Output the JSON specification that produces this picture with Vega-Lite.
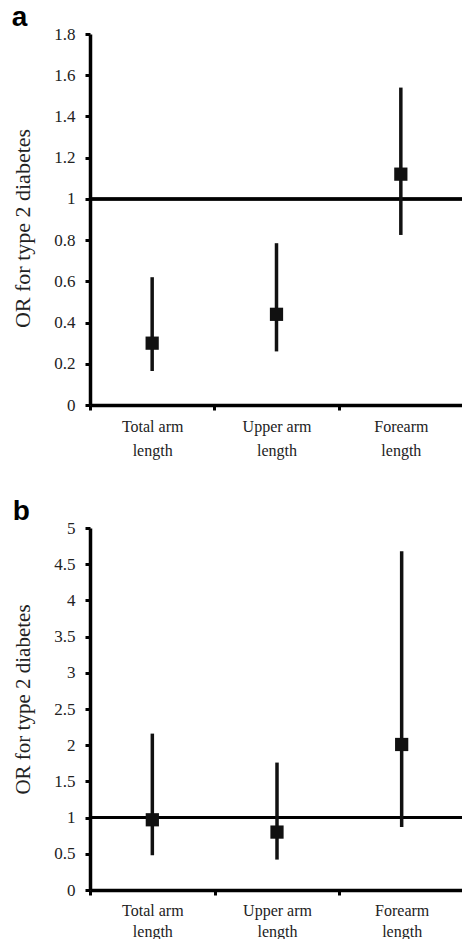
{
  "$schema": "https://vega.github.io/schema/vega-lite/v6.json",
  "padding": {"left": 11, "top": 4, "right": 0, "bottom": 0},
  "background": "white",
  "datasets": {
    "or": [
      {"panel": "a", "measure": "Total arm length", "or": 0.30, "lo": 0.165, "hi": 0.62},
      {"panel": "a", "measure": "Upper arm length", "or": 0.44, "lo": 0.26, "hi": 0.785},
      {"panel": "a", "measure": "Forearm length", "or": 1.12, "lo": 0.825, "hi": 1.54},
      {"panel": "b", "measure": "Total arm length", "or": 0.97, "lo": 0.48, "hi": 2.16},
      {"panel": "b", "measure": "Upper arm length", "or": 0.80, "lo": 0.42, "hi": 1.76},
      {"panel": "b", "measure": "Forearm length", "or": 2.01, "lo": 0.87, "hi": 4.68}
    ]
  },
  "config": {
    "view": {"stroke": null},
    "font": "Liberation Serif",
    "title": {"font": "Liberation Sans", "fontWeight": "bold", "fontSize": 28, "anchor": "start", "frame": "bounds", "color": "black", "offset": -7},
    "axis": {
      "domainColor": "black", "domainWidth": 3.5, "tickColor": "black", "tickWidth": 3, "tickSize": 5,
      "labelFont": "Liberation Serif", "labelFontSize": 17, "labelColor": "#222",
      "titleFont": "Liberation Serif", "titleFontSize": 21, "titleFontWeight": "normal", "titleColor": "#222",
      "grid": false
    }
  },
  "spacing": 40,
  "vconcat": [
    {
      "title": "a",
      "width": 373,
      "height": 371,
      "data": {"name": "or"},
      "transform": [{"filter": "datum.panel === 'a'"}],
      "encoding": {
        "x": {"field": "measure", "type": "nominal", "sort": ["Total arm length", "Upper arm length", "Forearm length"],
          "scale": {"paddingInner": 0, "paddingOuter": 0},
          "axis": {"title": null, "labelAngle": 0, "tickBand": "extent", "labelPadding": 8, "labelLineHeight": 24,
            "labelFont": "Liberation Serif", "labelFontSize": 16,
            "labelExpr": "datum.label ? [replace(datum.label, ' length', ''), 'length'] : ''"}}
      },
      "layer": [
        {"mark": {"type": "rule", "strokeWidth": 3, "color": "black"},
          "encoding": {"x": null, "y": {"datum": 1, "type": "quantitative", "scale": {"domain": [0, 1.8], "nice": false},
            "axis": {"title": "OR for type 2 diabetes", "values": [0, 0.2, 0.4, 0.6, 0.8, 1, 1.2, 1.4, 1.6, 1.8], "format": "~g", "labelOverlap": false, "titleFontSize": 22, "labelPadding": 10, "titlePadding": 19, "titleY": 194}}}},
        {"mark": {"type": "rule", "strokeWidth": 3.5, "color": "#111"},
          "encoding": {
            "y": {"field": "lo", "type": "quantitative", "scale": {"domain": [0, 1.8], "nice": false},
              "axis": {"title": "OR for type 2 diabetes", "values": [0, 0.2, 0.4, 0.6, 0.8, 1, 1.2, 1.4, 1.6, 1.8], "format": "~g", "labelOverlap": false, "titleFontSize": 22, "labelPadding": 10, "titlePadding": 19, "titleY": 194}},
            "y2": {"field": "hi"}
          }},
        {"mark": {"type": "square", "filled": true, "color": "#111", "size": 175, "opacity": 1},
          "encoding": {"y": {"field": "or", "type": "quantitative", "scale": {"domain": [0, 1.8], "nice": false},
            "axis": {"title": "OR for type 2 diabetes", "values": [0, 0.2, 0.4, 0.6, 0.8, 1, 1.2, 1.4, 1.6, 1.8], "format": "~g", "labelOverlap": false, "titleFontSize": 22, "labelPadding": 10, "titlePadding": 19, "titleY": 194}}}}
      ]
    },
    {
      "title": "b",
      "width": 374,
      "height": 362,
      "data": {"name": "or"},
      "transform": [{"filter": "datum.panel === 'b'"}],
      "encoding": {
        "x": {"field": "measure", "type": "nominal", "sort": ["Total arm length", "Upper arm length", "Forearm length"],
          "scale": {"paddingInner": 0, "paddingOuter": 0},
          "axis": {"title": null, "labelAngle": 0, "tickBand": "extent", "labelPadding": 7, "labelLineHeight": 21,
            "labelFont": "Liberation Serif", "labelFontSize": 16,
            "labelExpr": "datum.label ? [replace(datum.label, ' length', ''), 'length'] : ''"}}
      },
      "layer": [
        {"mark": {"type": "rule", "strokeWidth": 3, "color": "black"},
          "encoding": {"x": null, "y": {"datum": 1, "type": "quantitative", "scale": {"domain": [0, 5], "nice": false},
            "axis": {"title": "OR for type 2 diabetes", "values": [0, 0.5, 1, 1.5, 2, 2.5, 3, 3.5, 4, 4.5, 5], "format": "~g", "labelOverlap": false, "labelPadding": 10, "titlePadding": 20, "titleY": 171}}}},
        {"mark": {"type": "rule", "strokeWidth": 3.5, "color": "#111"},
          "encoding": {
            "y": {"field": "lo", "type": "quantitative", "scale": {"domain": [0, 5], "nice": false},
              "axis": {"title": "OR for type 2 diabetes", "values": [0, 0.5, 1, 1.5, 2, 2.5, 3, 3.5, 4, 4.5, 5], "format": "~g", "labelOverlap": false, "labelPadding": 10, "titlePadding": 20, "titleY": 171}},
            "y2": {"field": "hi"}
          }},
        {"mark": {"type": "square", "filled": true, "color": "#111", "size": 175, "opacity": 1},
          "encoding": {"y": {"field": "or", "type": "quantitative", "scale": {"domain": [0, 5], "nice": false},
            "axis": {"title": "OR for type 2 diabetes", "values": [0, 0.5, 1, 1.5, 2, 2.5, 3, 3.5, 4, 4.5, 5], "format": "~g", "labelOverlap": false, "labelPadding": 10, "titlePadding": 20, "titleY": 171}}}}
      ]
    }
  ]
}
